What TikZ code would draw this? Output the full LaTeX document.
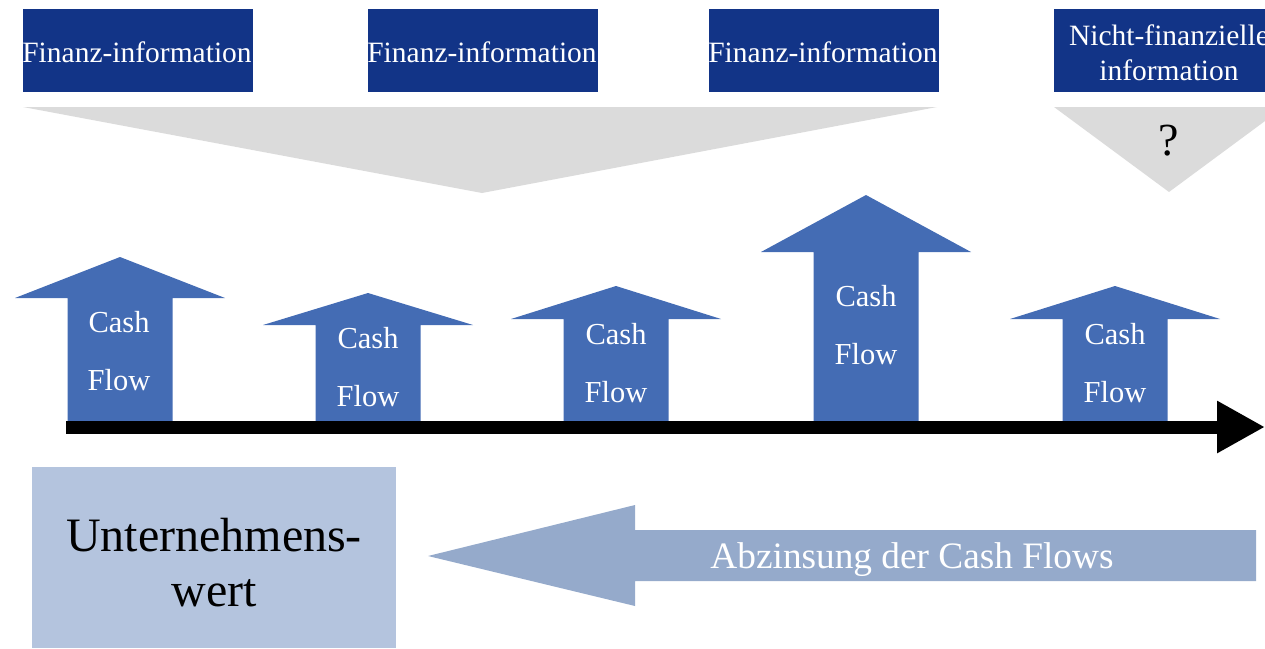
\documentclass[tikz,border=0pt]{standalone}
\usepackage{fontspec}
\setmainfont{Liberation Serif}
\usetikzlibrary{arrows.meta}
\definecolor{infoblue}{RGB}{18,52,135}
\definecolor{funnelgray}{RGB}{219,219,219}
\definecolor{cfblue}{RGB}{68,108,180}
\definecolor{valuebox}{RGB}{180,196,222}
\definecolor{discount}{RGB}{149,170,203}
\tikzset{
  infobox/.style={fill=infoblue, minimum width=230pt, minimum height=83pt, inner sep=0pt},
  infotext/.style={text=white, inner sep=0pt, align=center, font=\fontsize{29.5}{35}\selectfont},
  cflabel/.style={text=white, align=center, inner sep=0pt, font=\fontsize{30.5}{58}\selectfont},
}
\begin{document}
\begin{tikzpicture}[x=1pt,y=-1pt]
\useasboundingbox (0,0) rectangle (1265,648);
\clip (0,0) rectangle (1265,648);

% information sources
\node[infobox] (fin1) at (138,50.5) {};
\node[infobox] (fin2) at (483,50.5) {};
\node[infobox] (fin3) at (824,50.5) {};
\node[infobox] (nonfin) at (1169,50.5) {};
\node[infotext] (fin1t) at (137,52.5) {Finanz-information};
\node[infotext] (fin2t) at (482,52.5) {Finanz-information};
\node[infotext] (fin3t) at (823,52.5) {Finanz-information};
\node[infotext] (nonfint) at (1169,52.5) {Nicht-finanzielle\\information};

% funnels
\fill[funnelgray] (23,107) -- (937,107) -- (482,193) -- cycle;
\fill[funnelgray] (1054,107) -- (1284,107) -- (1169,192) -- cycle;
\node[font=\fontsize{46}{50}\selectfont, inner sep=0pt] (q) at (1169,141) {?};

% cash flow arrows: tip x, tip y, head base y
\foreach \cx/\ty/\hy in {120/257/298, 368/293/325, 616/286/319, 866/195/252, 1115/286/319}{
  \fill[cfblue] (\cx,\ty) -- (\cx+105,\hy) -- (\cx+52.5,\hy) -- (\cx+52.5,421)
    -- (\cx-52.5,421) -- (\cx-52.5,\hy) -- (\cx-105,\hy) -- cycle;
}
\node[cflabel] (cf1) at (119,351) {Cash\\Flow};
\node[cflabel] (cf2) at (368,367) {Cash\\Flow};
\node[cflabel] (cf3) at (616,363) {Cash\\Flow};
\node[cflabel] (cf4) at (866,325) {Cash\\Flow};
\node[cflabel] (cf5) at (1115,363) {Cash\\Flow};

% time axis
\coordinate (t0) at (66,427);
\coordinate (t1) at (1265,427);
\draw[line width=13pt, -{Triangle[length=48pt,width=49pt]}] (t0) -- (t1);

% company value
\node[fill=valuebox, minimum width=364pt, minimum height=181pt, inner sep=0pt] (value) at (214,557.5) {};
\node[inner sep=0pt, align=center, font=\fontsize{48}{55}\selectfont] (valuet) at (214,563) {Unternehmens-\\wert};

% discounting arrow
\fill[discount] (428,556) -- (635,505) -- (635,530) -- (1256,530) -- (1256,581)
  -- (635,581) -- (635,606) -- cycle;
\node[text=white, inner sep=0pt, font=\fontsize{37.3}{40}\selectfont] (disc) at (912,560) {Abzinsung der Cash Flows};
\end{tikzpicture}
\end{document}
